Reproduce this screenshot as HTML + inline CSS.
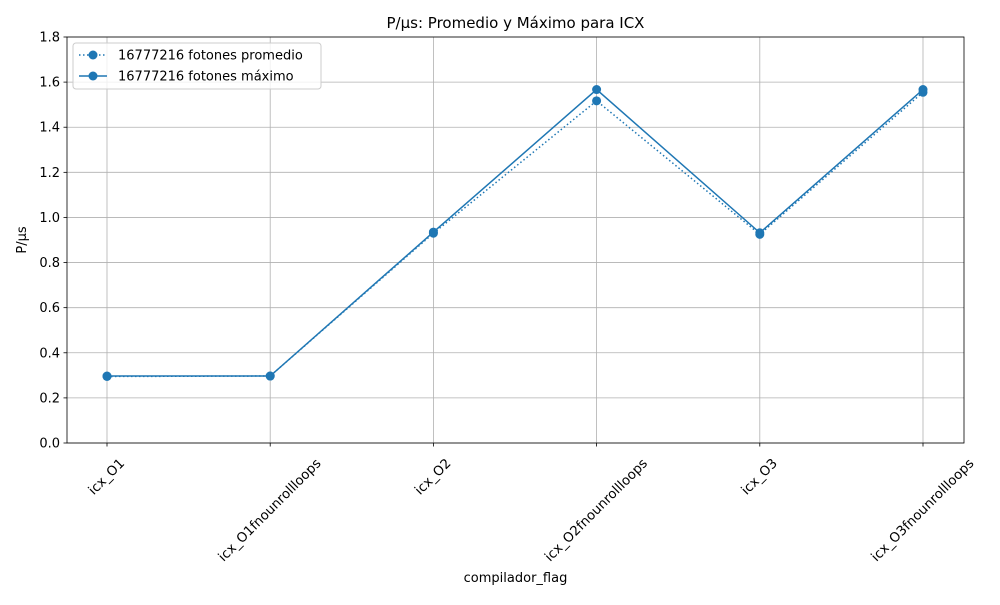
<!DOCTYPE html>
<html><head><meta charset="utf-8"><style>
body{margin:0;background:#fff;font-family:"Liberation Sans","DejaVu Sans",sans-serif}
svg text{font-family:"DejaVu Sans","Liberation Sans",sans-serif}
</style></head><body>
<svg id="chart" width="1000" height="600" xmlns="http://www.w3.org/2000/svg"></svg>
<script>
const categories=["icx_O1","icx_O1fnounrollloops","icx_O2","icx_O2fnounrollloops","icx_O3","icx_O3fnounrollloops"];
const avgValues=[0.295,0.297,0.930,1.517,0.925,1.555];
const maxValues=[0.297,0.297,0.935,1.567,0.932,1.567];
const yTicks=[0,0.2,0.4,0.6,0.8,1.0,1.2,1.4,1.6,1.8];
const seriesNames=["16777216 fotones promedio","16777216 fotones máximo"];

const svg=document.getElementById('chart');
const NS="http://www.w3.org/2000/svg";
const L=67,R=964,T=37,B=443,color="#1f77b4";
const xs=i=>107+i*(923-107)/(categories.length-1);
const ys=v=>B-(v-0)/(1.8-0)*(B-T);
function mk(tag,attrs,parent){const e=document.createElementNS(NS,tag);for(const k in attrs)e.setAttribute(k,attrs[k]);(parent||svg).appendChild(e);return e;}

const grid=mk('g',{});


categories.forEach((c,i)=>{
  mk('line',{x1:xs(i),x2:xs(i),y1:T,y2:B,stroke:'#b0b0b0','stroke-width':0.8},grid);
  mk('line',{x1:xs(i),x2:xs(i),y1:B,y2:B+3.5,stroke:'#000','stroke-width':0.8});
  const t=mk('text',{x:0,y:0,'font-size':13.3,'text-anchor':'middle','dominant-baseline':'central'});
  t.textContent=c;
  
  
  const w=t.getComputedTextLength();
  const box=(w+13)*0.7071;
  t.setAttribute('transform',`translate(${xs(i)},${B+14+box/2}) rotate(-45)`);
});
yTicks.forEach(v=>{
  mk('line',{x1:L,x2:R,y1:ys(v),y2:ys(v),stroke:'#b0b0b0','stroke-width':0.8},grid);
  mk('line',{x1:L-3.5,x2:L,y1:ys(v),y2:ys(v),stroke:'#000','stroke-width':0.8});
  const t=mk('text',{x:L-7,y:ys(v)+4.5,'font-size':13,'text-anchor':'end'});
  t.textContent=v.toFixed(1);
  
  
});
function series(vals,dash,name){
  const g=mk('g',{});
  
  
  mk('polyline',{points:vals.map((v,i)=>xs(i)+','+ys(v)).join(' '),fill:'none',stroke:color,'stroke-width':1.5,'stroke-dasharray':dash||''},g);
  vals.forEach((v,i)=>{const c=mk('circle',{cx:xs(i),cy:ys(v),r:4.5,fill:color},g);
    
    });
}
series(avgValues,'1.5,2.5','series-promedio');
series(maxValues,'','series-maximo');
const frame=mk('rect',{x:L,y:T,width:R-L,height:B-T,fill:'none',stroke:'#000','stroke-width':0.8});



const title=mk('text',{x:515.5,y:28,'font-size':15,'text-anchor':'middle'});
title.textContent="P/µs: Promedio y Máximo para ICX";


const xt=mk('text',{x:515.5,y:582,'font-size':13,'text-anchor':'middle'});
xt.textContent="compilador_flag";


const yt=mk('text',{x:0,y:0,'font-size':13,'text-anchor':'middle',transform:'translate(26,240) rotate(-90)'});
yt.textContent="P/µs";



const leg=mk('g',{});


mk('rect',{x:73,y:43,width:248,height:46,rx:3,fill:'#fff','fill-opacity':0.8,stroke:'#ccc'},leg);
seriesNames.forEach((n,i)=>{
  const y=55+i*21;
  const e=mk('g',{},leg);
  
  
  mk('line',{x1:79,x2:107,y1:y,y2:y,stroke:color,'stroke-width':1.5,'stroke-dasharray':i==0?'1.5,2.5':''},e);
  mk('circle',{cx:93,cy:y,r:4.5,fill:color},e);
  const t=mk('text',{x:118,y:y+4.5,'font-size':13},e);t.textContent=n;
});
</script>
</body></html>
